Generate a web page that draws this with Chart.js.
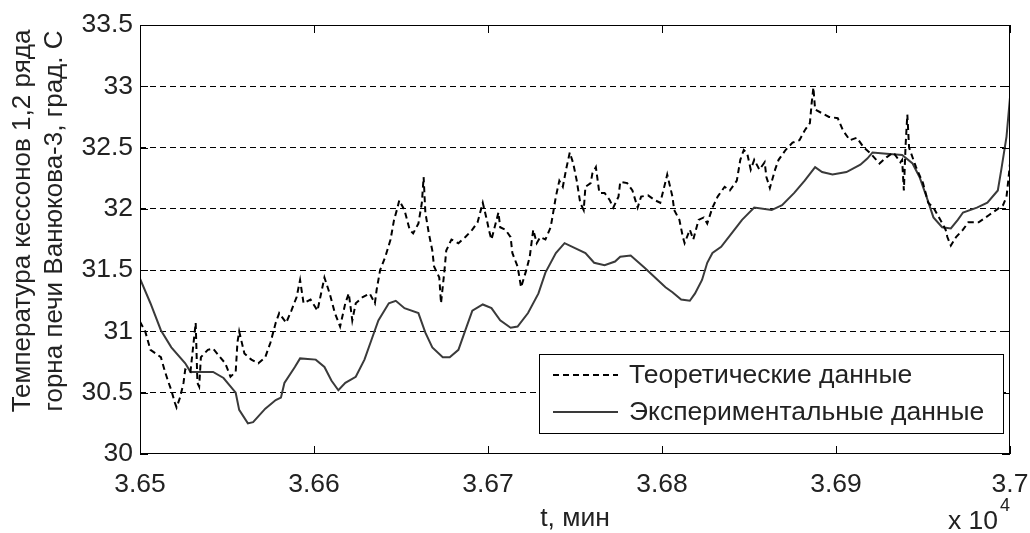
<!DOCTYPE html>
<html>
<head>
<meta charset="utf-8">
<script src="https://cdn.jsdelivr.net/npm/chart.js@4/dist/chart.umd.min.js"></script>
<style>
  body { margin: 0; background: #fff; }
  canvas { display: block; }
</style>
</head>
<body>
<canvas id="grafica" width="1030" height="533"></canvas>
<script>
// время, мин
const tTeor = [36500, 36503, 36506, 36512, 36514, 36516, 36518, 36520, 36521, 36523, 36525, 36526, 36529, 36532, 36533, 36534,
  36535, 36539, 36542, 36546, 36549, 36552, 36555, 36556, 36557, 36560, 36564, 36568, 36572, 36575, 36578, 36580,
  36584, 36587, 36590, 36592, 36594, 36598, 36602, 36606, 36609, 36612, 36615, 36618, 36620, 36622, 36624, 36628,
  36632, 36635, 36636, 36638, 36641, 36644, 36646, 36648, 36649, 36652, 36655, 36657, 36660, 36662, 36663, 36664,
  36666, 36668, 36669, 36672, 36673, 36675, 36676, 36679, 36683, 36687, 36691, 36694, 36697, 36699, 36701, 36702,
  36706, 36707, 36710, 36713, 36714, 36717, 36719, 36722, 36724, 36726, 36728, 36730, 36733, 36736, 36737, 36739,
  36741, 36743, 36745, 36747, 36749, 36751, 36753, 36755, 36756, 36759, 36760, 36762, 36764, 36767, 36770, 36772,
  36775, 36776, 36780, 36783, 36786, 36788, 36792, 36796, 36799, 36802, 36803, 36806, 36807, 36810, 36812, 36813,
  36816, 36818, 36821, 36824, 36826, 36829, 36832, 36836, 36839, 36843, 36845, 36847, 36849, 36851, 36853, 36856,
  36859, 36860, 36862, 36865, 36867, 36871, 36875, 36879, 36882, 36885, 36886, 36887, 36888, 36892, 36896, 36901,
  36904, 36908, 36912, 36916, 36920, 36925, 36929, 36933, 36937, 36938, 36939, 36940, 36941, 36942, 36946, 36950,
  36953, 36956, 36960, 36963, 36964, 36966, 36969, 36973, 36976, 36982, 36988, 36996, 36998, 36999, 37000];
const teoricos = [31.08, 31.00, 30.85, 30.79, 30.69, 30.60, 30.52, 30.42, 30.38, 30.46, 30.58, 30.69, 30.67, 31.07, 30.58, 30.55,
  30.79, 30.85, 30.86, 30.79, 30.74, 30.63, 30.67, 30.91, 31.00, 30.82, 30.77, 30.74, 30.79, 30.91, 31.07, 31.15,
  31.07, 31.17, 31.28, 31.42, 31.23, 31.26, 31.17, 31.44, 31.31, 31.15, 31.04, 31.23, 31.31, 31.09, 31.23, 31.28,
  31.31, 31.23, 31.34, 31.50, 31.61, 31.75, 31.91, 32.01, 32.07, 31.99, 31.83, 31.80, 31.88, 32.05, 32.26, 31.97,
  31.80, 31.66, 31.53, 31.44, 31.23, 31.50, 31.66, 31.75, 31.72, 31.77, 31.83, 31.89, 32.05, 31.93, 31.80, 31.75,
  31.97, 31.85, 31.83, 31.77, 31.64, 31.53, 31.36, 31.50, 31.61, 31.83, 31.72, 31.77, 31.75, 31.85, 31.93, 32.10,
  32.23, 32.18, 32.33, 32.46, 32.37, 32.23, 32.05, 31.99, 32.18, 32.21, 32.29, 32.34, 32.13, 32.13, 32.07, 32.01,
  32.10, 32.22, 32.21, 32.15, 32.01, 32.10, 32.11, 32.07, 32.05, 32.22, 32.28, 32.10, 31.99, 31.91, 31.77, 31.72,
  31.83, 31.75, 31.91, 31.93, 31.88, 32.01, 32.10, 32.18, 32.15, 32.23, 32.40, 32.48, 32.45, 32.32, 32.40, 32.32,
  32.38, 32.26, 32.17, 32.32, 32.40, 32.48, 32.54, 32.56, 32.64, 32.70, 32.86, 32.99, 32.81, 32.78, 32.75, 32.74,
  32.64, 32.56, 32.58, 32.50, 32.45, 32.37, 32.42, 32.46, 32.38, 32.40, 32.15, 32.52, 32.77, 32.50, 32.34, 32.21,
  32.05, 32.01, 31.91, 31.83, 31.77, 31.70, 31.77, 31.83, 31.89, 31.89, 31.95, 32.03, 32.10, 32.23, 32.37];

const tExp = [36500, 36506, 36512, 36518, 36526, 36529, 36542, 36548, 36555, 36557, 36562, 36565, 36572, 36578, 36581, 36583,
  36589, 36592, 36601, 36606, 36610, 36614, 36618, 36624, 36629, 36633, 36637, 36643, 36647, 36652, 36660, 36664,
  36668, 36674, 36678, 36683, 36687, 36691, 36697, 36702, 36707, 36713, 36717, 36723, 36729, 36733, 36739, 36744,
  36750, 36756, 36761, 36767, 36773, 36776, 36782, 36790, 36796, 36802, 36806, 36811, 36816, 36819, 36823, 36826,
  36829, 36834, 36840, 36846, 36853, 36863, 36869, 36876, 36882, 36888, 36892, 36898, 36906, 36914, 36918, 36921,
  36929, 36938, 36944, 36948, 36952, 36956, 36961, 36966, 36970, 36973, 36981, 36987, 36993, 36995, 36998, 37000];
const experimentales = [31.43, 31.23, 31.01, 30.87, 30.74, 30.67, 30.67, 30.62, 30.50, 30.36, 30.25, 30.26, 30.37, 30.44, 30.46, 30.58,
  30.71, 30.78, 30.77, 30.71, 30.60, 30.52, 30.58, 30.63, 30.77, 30.93, 31.09, 31.23, 31.25, 31.19, 31.15, 30.99,
  30.87, 30.79, 30.79, 30.85, 31.01, 31.17, 31.22, 31.19, 31.09, 31.03, 31.04, 31.15, 31.31, 31.48, 31.64, 31.72,
  31.68, 31.64, 31.56, 31.54, 31.57, 31.61, 31.62, 31.52, 31.44, 31.36, 31.32, 31.26, 31.25, 31.31, 31.42, 31.56,
  31.64, 31.69, 31.80, 31.91, 32.01, 31.99, 32.03, 32.13, 32.23, 32.34, 32.30, 32.28, 32.30, 32.36, 32.41, 32.46,
  32.45, 32.44, 32.37, 32.26, 32.10, 31.93, 31.85, 31.84, 31.91, 31.97, 32.01, 32.05, 32.15, 32.32, 32.59, 32.91];

const etiquetas = ["Теоретические данные", "Экспериментальные данные"];
const tituloY = ["Температура кессонов 1,2 ряда", "горна печи Ванюкова-3, град. С"];
const tituloX = "t, мин";

const fuente = '"Liberation Sans", Arial, sans-serif';
const tam = 26.5;

function puntos(xs, ys) {
  return xs.map((x, i) => ({ x: x, y: ys[i] }));
}

// marco, marcas de escala hacia dentro, leyenda y titulos
const marco = {
  id: 'marco',
  afterDraw(chart) {
    const ctx = chart.ctx;
    const a = chart.chartArea;
    const sx = chart.scales.x;
    const sy = chart.scales.y;
    ctx.save();
    ctx.strokeStyle = '#000';
    ctx.lineWidth = 1;
    ctx.strokeRect(a.left + 0.5, a.top + 0.5, a.right - a.left - 1, a.bottom - a.top - 1);
    ctx.beginPath();
    sx.ticks.forEach(t => {
      const px = Math.round(sx.getPixelForValue(t.value)) + 0.5;
      ctx.moveTo(px, a.bottom); ctx.lineTo(px, a.bottom - 8);
      ctx.moveTo(px, a.top); ctx.lineTo(px, a.top + 8);
    });
    sy.ticks.forEach(t => {
      const py = Math.round(sy.getPixelForValue(t.value)) + 0.5;
      ctx.moveTo(a.left, py); ctx.lineTo(a.left + 8, py);
      ctx.moveTo(a.right, py); ctx.lineTo(a.right - 8, py);
    });
    ctx.stroke();

    // leyenda
    const lx = 539, ly = 354, lw = 464, lh = 79;
    ctx.fillStyle = '#fff';
    ctx.fillRect(lx, ly, lw, lh);
    ctx.strokeRect(lx + 0.5, ly + 0.5, lw, lh);
    const ds = chart.data.datasets;
    [375, 412].forEach((yy, i) => {
      ctx.beginPath();
      ctx.strokeStyle = ds[i].borderColor;
      ctx.lineWidth = 2;
      ctx.setLineDash(ds[i].borderDash || []);
      ctx.moveTo(553, yy); ctx.lineTo(618, yy);
      ctx.stroke();
      ctx.setLineDash([]);
      ctx.fillStyle = '#222';
      ctx.font = tam + 'px ' + fuente;
      ctx.textBaseline = 'middle';
      ctx.textAlign = 'left';
      ctx.fillText(ds[i].label, 629, yy + 1);
    });

    // titulos
    ctx.fillStyle = '#222';
    ctx.font = tam + 'px ' + fuente;
    ctx.textAlign = 'center';
    ctx.textBaseline = 'middle';
    ctx.fillText(tituloX, (a.left + a.right) / 2, 519);
    ctx.textAlign = 'right';
    ctx.fillText('x 10', 998, 522);
    ctx.textAlign = 'left';
    ctx.font = '18px ' + fuente;
    ctx.fillText('4', 1000, 506);
    ctx.font = '26px ' + fuente;
    ctx.textAlign = 'center';
    ctx.translate(0, 221);
    ctx.rotate(-Math.PI / 2);
    ctx.fillText(tituloY[0], 0, 23);
    ctx.fillText(tituloY[1], 0, 55);
    ctx.restore();
  }
};

new Chart(document.getElementById('grafica'), {
  type: 'line',
  data: {
    datasets: [
      {
        label: etiquetas[0],
        data: puntos(tTeor, teoricos),
        borderColor: '#000',
        borderWidth: 2,
        borderDash: [6, 4],
        pointRadius: 0,
        tension: 0,
        fill: false
      },
      {
        label: etiquetas[1],
        data: puntos(tExp, experimentales),
        borderColor: '#3a3a3a',
        borderWidth: 2,
        pointRadius: 0,
        tension: 0,
        fill: false
      }
    ]
  },
  options: {
    responsive: false,
    animation: false,
    layout: { padding: { top: 25, right: 20, left: 0, bottom: 0 } },
    plugins: { legend: { display: false }, tooltip: { enabled: false } },
    scales: {
      x: {
        type: 'linear',
        min: 36500,
        max: 37000,
        afterFit: s => { s.height = 79; s.paddingLeft = 0; s.paddingRight = 0; },
        grid: { display: false },
        border: { display: false },
        ticks: {
          stepSize: 100,
          padding: 7,
          maxRotation: 0,
          color: '#222',
          font: { family: fuente, size: tam },
          callback: v => String(+(v / 10000).toFixed(4))
        }
      },
      y: {
        min: 30,
        max: 33.5,
        afterFit: s => { s.width = 140; s.paddingTop = 0; s.paddingBottom = 0; },
        grid: {
          drawTicks: false,
          lineWidth: 1,
          color: c => (c.tick && (c.tick.value === 30 || c.tick.value === 33.5)) ? 'rgba(0,0,0,0)' : '#000'
        },
        border: { display: false, dash: [6, 4] },
        ticks: {
          stepSize: 0.5,
          padding: 7,
          color: '#222',
          font: { family: fuente, size: tam },
          callback: v => String(v)
        }
      }
    }
  },
  plugins: [marco]
});
</script>
</body>
</html>
